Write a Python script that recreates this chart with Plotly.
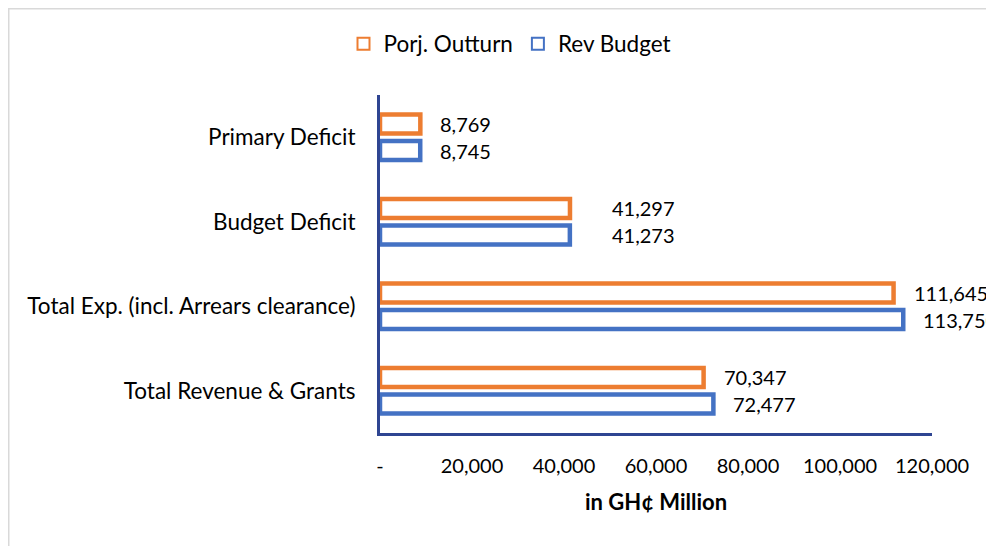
import plotly.graph_objects as go

categories = ["Total Revenue & Grants", "Total Exp. (incl. Arrears clearance)", "Budget Deficit", "Primary Deficit"]
rev_budget = [72477, 113750, 41273, 8745]
proj_outturn = [70347, 111645, 41297, 8769]
x_ticks = [0, 20000, 40000, 60000, 80000, 100000, 120000]
x_tick_labels = ["-", "20,000", "40,000", "60,000", "80,000", "100,000", "120,000"]

ORANGE = "#ED7D31"
BLUE = "#4472C4"
AXIS = "#2F4592"
FONT = "Lato"

# page body has an 8px margin: plot area should land at page x 380-932, y 95-433
OFF = 8
L, R, T, B = 380 - OFF, 932 - OFF, 95 - OFF, 433 - OFF
W, H = 994, 546

fig = go.Figure()
fig.add_trace(go.Bar(
    y=categories, x=rev_budget, orientation="h", name="Rev Budget",
    marker=dict(color="white", line=dict(color=BLUE, width=4.5)),
    hoverinfo="skip",
))
fig.add_trace(go.Bar(
    y=categories, x=proj_outturn, orientation="h", name="Porj. Outturn",
    marker=dict(color="white", line=dict(color=ORANGE, width=4.5)),
    hoverinfo="skip",
))

# data labels
label_gap = {"Budget Deficit": 40}
slot = 0.157  # offset of each bar from category centre (in category units)
for vals, off in ((rev_budget, -slot), (proj_outturn, slot)):
    for i, (c, v) in enumerate(zip(categories, vals)):
        fig.add_annotation(
            x=v, y=i + off, xref="x", yref="y", text=f"{v:,}",
            showarrow=False, xanchor="left", yanchor="middle",
            xshift=label_gap.get(c, 18),
            font=dict(family=FONT, size=20, color="#000000"),
        )

# axis title
fig.add_annotation(
    x=0.5, y=-(501 - 433) / 338, xref="paper", yref="paper",
    text="<b>in GH¢ Million</b>", showarrow=False, xanchor="center", yanchor="middle",
    font=dict(family=FONT, size=22, color="#000000"),
)

fig.update_layout(
    width=W, height=H,
    margin=dict(l=L, r=W - R, t=T, b=H - B, autoexpand=False),
    paper_bgcolor="white", plot_bgcolor="white",
    barmode="group", bargap=0.373, bargroupgap=0.283,
    font=dict(family=FONT, size=22, color="#000000"),
    showlegend=True,
    legend=dict(orientation="h", x=(510 - OFF) / W, xanchor="center", xref="container",
                y=1 - (44 - OFF) / H, yref="container", yanchor="middle",
                traceorder="reversed", bgcolor="rgba(0,0,0,0)",
                font=dict(family=FONT, size=22.5), itemwidth=30, itemsizing="constant"),
    xaxis=dict(range=[0, 120000], tickvals=x_ticks, ticktext=x_tick_labels,
               tickfont=dict(family=FONT, size=20),
               showgrid=False, zeroline=False, showline=True, linecolor=AXIS, linewidth=3,
               ticks="", ticklabelstandoff=13, automargin=False, fixedrange=True),
    yaxis=dict(showgrid=False, zeroline=False, showline=True, linecolor=AXIS, linewidth=3,
               tickfont=dict(family=FONT, size=22.5),
               ticks="", ticklabelstandoff=17, automargin=False, fixedrange=True),
)

# outer chart border (light grey frame)
fig.add_shape(type="rect", xref="paper", yref="paper",
              x0=(0.75 - L) / (R - L), x1=(W + 20 - L) / (R - L),
              y0=-(H + 20 - B) / (B - T), y1=1 + (T - 0.75) / (B - T),
              line=dict(color="#D9D9D9", width=1.5), fillcolor="rgba(0,0,0,0)", layer="below")

fig.write_html("out.html")
